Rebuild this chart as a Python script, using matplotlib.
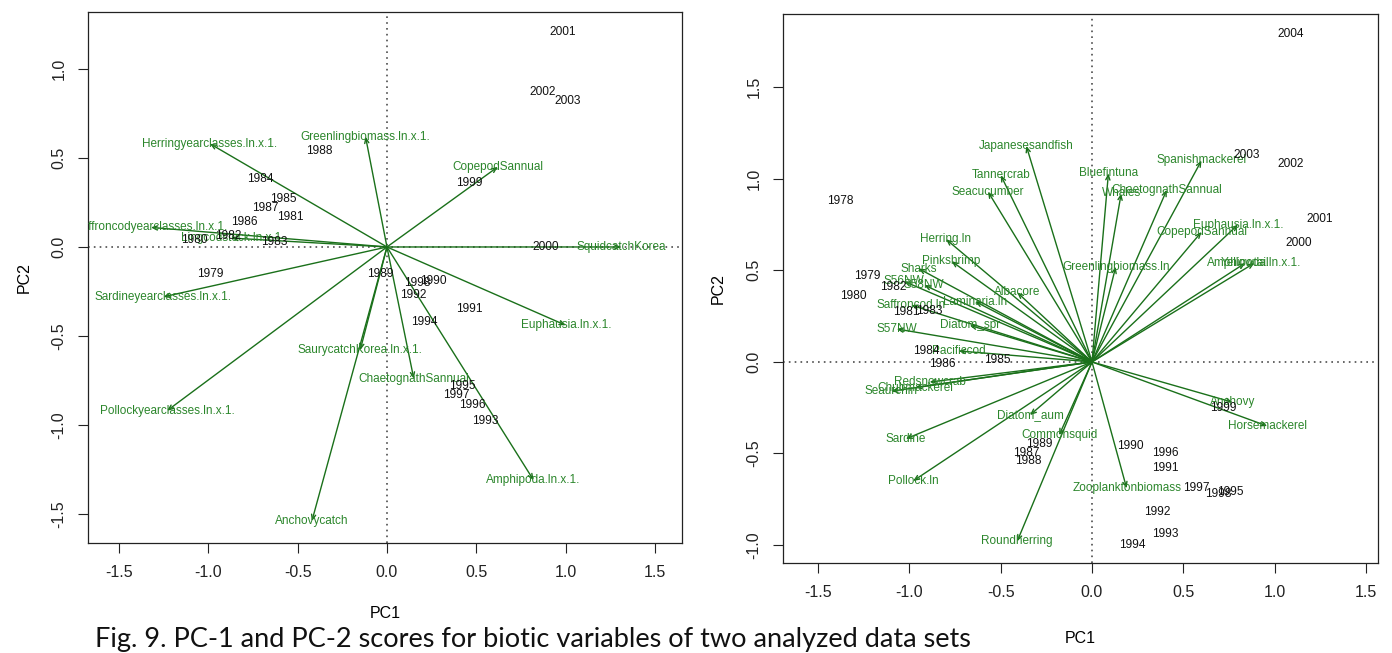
#!/usr/bin/env python3

from matplotlib import pyplot as plt

plt.rcParams["font.family"] = ["Liberation Sans", "DejaVu Sans"]

# left panel: year scores
left_years = [
    "2001", "2002", "2003", "1999", "2000", "1988", "1989", "1998", "1990",
    "1992", "1991", "1994", "1995", "1997", "1996", "1993", "1984", "1985",
    "1987", "1981", "1986", "1982", "1980", "1983", "1979",
]
left_year_pc1 = [
    0.98, 0.87, 1.01, 0.46, 0.89, -0.38, -0.04, 0.17, 0.26,
    0.15, 0.46, 0.21, 0.42, 0.39, 0.48, 0.55, -0.71, -0.58,
    -0.68, -0.54, -0.80, -0.89, -1.08, -0.63, -0.99,
]
left_year_pc2 = [
    1.21, 0.87, 0.82, 0.36, 0.00, 0.54, -0.15, -0.20, -0.19,
    -0.27, -0.35, -0.42, -0.78, -0.83, -0.89, -0.98, 0.38, 0.27,
    0.22, 0.17, 0.14, 0.06, 0.04, 0.03, -0.15,
]

# left panel: variable loadings
left_vars = [
    "Herringyearclasses.ln.x.1.", "Greenlingbiomass.ln.x.1.", "CopepodSannual",
    "SquidcatchKorea", "Euphausia.ln.x.1.", "Amphipoda.ln.x.1.",
    "ChaetognathSannual", "SaurycatchKorea.ln.x.1.", "Anchovycatch",
    "Pollockyearclasses.ln.x.1.", "Sardineyearclasses.ln.x.1.",
    "Saffroncodyearclasses.ln.x.1.", "Lingcodstock.ln.x.1",
]
left_var_pc1 = [
    -0.99, -0.12, 0.62, 1.31, 1.00, 0.82, 0.15, -0.15, -0.42, -1.23, -1.25,
    -1.32, -0.87,
]
left_var_pc2 = [
    0.58, 0.62, 0.45, 0.00, -0.44, -1.31, -0.74, -0.58, -1.54, -0.92, -0.28,
    0.11, 0.05,
]

# right panel: year scores
right_years = [
    "2004", "2003", "2002", "2001", "2000", "1978", "1979", "1982", "1980",
    "1981", "1983", "1984", "1986", "1985", "1989", "1987", "1988", "1990",
    "1996", "1991", "1997", "1998", "1995", "1992", "1993", "1994", "1999",
]
right_year_pc1 = [
    1.09, 0.85, 1.09, 1.25, 1.13, -1.38, -1.23, -1.09, -1.31,
    -1.02, -0.89, -0.91, -0.82, -0.52, -0.29, -0.36, -0.35, 0.21,
    0.40, 0.40, 0.57, 0.69, 0.76, 0.36, 0.40, 0.22, 0.72,
]
right_year_pc2 = [
    1.79, 1.13, 1.08, 0.78, 0.65, 0.88, 0.47, 0.41, 0.36,
    0.27, 0.28, 0.06, -0.01, 0.01, -0.45, -0.50, -0.54, -0.46,
    -0.50, -0.58, -0.69, -0.72, -0.71, -0.82, -0.94, -1.00, -0.25,
]

# right panel: variable loadings
right_vars = [
    "Japanesesandfish", "Tannercrab", "Seacucumber", "Bluefintuna", "Whales",
    "ChaetognathSannual", "Spanishmackerel", "Euphausia.ln.x.1.",
    "CopepodSannual", "Amphipoda.ln.x.1.", "Yellowtail", "Greenlingbiomass.ln",
    "Herring.ln", "Pinkshrimp", "Sharks", "S56NW", "S58NW", "Albacore",
    "Laminaria.ln", "Saffroncod.ln", "Diatom_spr", "S57NW", "Pacificcod",
    "Redsnowcrab", "Chubmackerel", "Seaurchin", "Diatom_aum", "Commonsquid",
    "Sardine", "Pollock.ln", "Roundherring", "Zooplanktonbiomass", "Anchovy",
    "Horsemackerel",
]
right_var_pc1 = [
    -0.36, -0.50, -0.57, 0.09, 0.16, 0.41, 0.60, 0.80, 0.60, 0.89, 0.84, 0.13,
    -0.80, -0.77, -0.95, -1.03, -0.92, -0.41, -0.64, -0.99, -0.67, -1.07,
    -0.73, -0.89, -0.97, -1.10, -0.34, -0.18, -1.02, -0.98, -0.41, 0.19,
    0.77, 0.96,
]
right_var_pc2 = [
    1.18, 1.02, 0.93, 1.03, 0.92, 0.94, 1.10, 0.75, 0.71, 0.54, 0.54, 0.52,
    0.67, 0.55, 0.51, 0.44, 0.42, 0.38, 0.33, 0.31, 0.20, 0.18, 0.06, -0.11,
    -0.14, -0.16, -0.29, -0.40, -0.42, -0.65, -0.98, -0.69, -0.22, -0.35,
]

ticks = [-1.5, -1.0, -0.5, 0.0, 0.5, 1.0, 1.5]
caption = "Fig. 9. PC-1 and PC-2 scores for biotic variables of two analyzed data sets"

GREEN_TEXT = "#2b862b"
GREEN_LINE = "#1a701a"


def draw_biplot(ax, years, ypc1, ypc2, names, vpc1, vpc2, xlim, ylim):
    ax.set_xlim(xlim)
    ax.set_ylim(ylim)
    ax.axhline(0, color="0.3", lw=1.2, ls=(0, (1, 2.5)), zorder=0)
    ax.axvline(0, color="0.3", lw=1.2, ls=(0, (1, 2.5)), zorder=0)

    for x, y in zip(vpc1, vpc2):
        ax.annotate(
            "", xy=(x, y), xytext=(0, 0),
            arrowprops=dict(arrowstyle="->,head_length=0.35,head_width=0.15",
                            color=GREEN_LINE, lw=1.0, shrinkA=0, shrinkB=0),
        )
    for name, x, y in zip(names, vpc1, vpc2):
        ax.text(x, y, name, ha="center", va="center", fontsize=8.5,
                color=GREEN_TEXT, clip_on=True)
    for year, x, y in zip(years, ypc1, ypc2):
        ax.text(x, y, year, ha="center", va="center", fontsize=8.6,
                color="#111111", clip_on=True)

    ax.set_xticks(ticks)
    ax.set_xticklabels(["%.1f" % t for t in ticks])
    ax.tick_params(direction="out", length=7.5, width=0.8, labelsize=11.5,
                   pad=8, colors="#222222")
    for spine in ax.spines.values():
        spine.set_linewidth(0.9)
        spine.set_color("#222222")


def main():
    fig = plt.figure(figsize=(13.92, 6.53), dpi=100)

    ax1 = fig.add_axes([88 / 1392, 1 - 543 / 653, 594 / 1392, 531 / 653])
    draw_biplot(ax1, left_years, left_year_pc1, left_year_pc2,
                left_vars, left_var_pc1, left_var_pc2,
                (-1.672, 1.65), (-1.663, 1.32))
    ax1.set_yticks([-1.5, -1.0, -0.5, 0.0, 0.5, 1.0])
    ax1.set_yticklabels(["-1.5", "-1.0", "-0.5", "0.0", "0.5", "1.0"],
                        rotation=90, va="center")
    ax1.set_xlabel("PC1", fontsize=11.5, labelpad=19)
    ax1.set_ylabel("PC2", fontsize=11.5, labelpad=14)

    ax2 = fig.add_axes([783 / 1392, 1 - 563 / 653, 595 / 1392, 549 / 653])
    draw_biplot(ax2, right_years, right_year_pc1, right_year_pc2,
                right_vars, right_var_pc1, right_var_pc2,
                (-1.693, 1.567), (-1.098, 1.90))
    ax2.set_yticks([-1.0, -0.5, 0.0, 0.5, 1.0, 1.5])
    ax2.set_yticklabels(["-1.0", "-0.5", "0.0", "0.5", "1.0", "1.5"],
                        rotation=90, va="center")
    ax2.set_xlabel("PC1", fontsize=11.5, labelpad=23)
    ax2.set_ylabel("PC2", fontsize=11.5, labelpad=15)

    fig.text(95 / 1392, 6.5 / 653, caption, fontsize=19.5,
             family=["Lato", "DejaVu Sans"], va="baseline", color="#111111")

    fig.savefig("out.png", dpi=100)


if __name__ == "__main__":
    main()
